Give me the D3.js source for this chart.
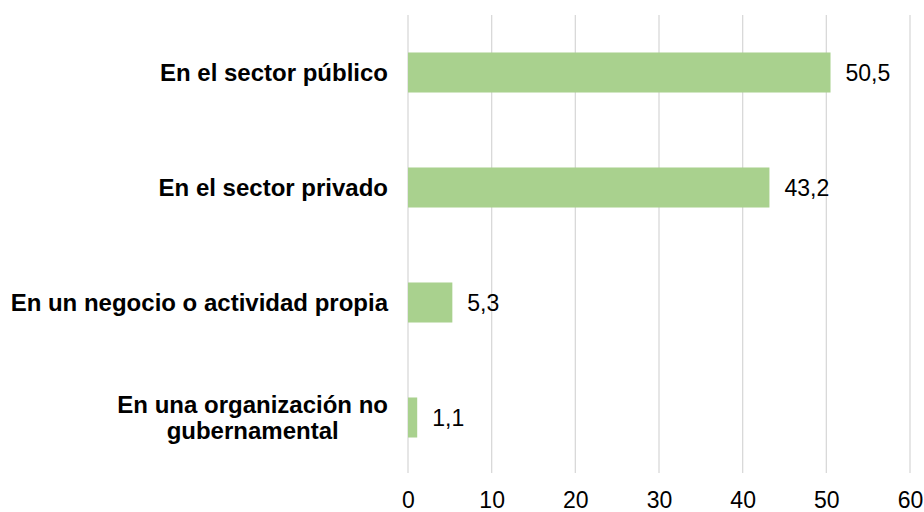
<!DOCTYPE html>
<html>
<head>
<meta charset="utf-8">
<script src="https://cdn.jsdelivr.net/npm/d3@7"></script>
<style>
  body { margin: 0; background: #fff; }
  svg text { font-family: "Liberation Sans", Arial, sans-serif; fill: #000; }
</style>
</head>
<body>
<svg id="chart" width="924" height="512"></svg>
<script>
// data
let categories = ["En el sector público", "En el sector privado", "En un negocio o actividad propia", "En una organización no gubernamental"];
let labelLines = [["En el sector público"], ["En el sector privado"], ["En un negocio o actividad propia"], ["En una organización no", "gubernamental"]];
let values = [50.5, 43.2, 5.3, 1.1];
let ticks = [0, 10, 20, 30, 40, 50, 60];

let svg = d3.select("#chart");
let plotLeft = 408, plotRight = 910, plotTop = 15, plotBottom = 473;

let x = d3.scaleLinear().domain([0, 60]).range([plotLeft, plotRight]);
let y = d3.scaleBand()
  .domain(categories)
  .range([plotTop, 475])
  .paddingInner(0.652)
  .paddingOuter(0.326);

// gridlines
svg.append("g").selectAll("line")
  .data(ticks)
  .enter()
  .append("line")
  .attr("x1", d => x(d)).attr("x2", d => x(d))
  .attr("y1", plotTop).attr("y2", plotBottom)
  .attr("stroke", "#d9d9d9")
  .attr("stroke-width", 1.3);

// bars
svg.append("g").selectAll("rect")
  .data(values)
  .enter()
  .append("rect")
  .attr("x", x(0))
  .attr("y", (d, i) => y(categories[i]))
  .attr("width", d => x(d) - x(0))
  .attr("height", y.bandwidth())
  .attr("fill", "#a9d18e");

// value labels
svg.append("g").selectAll("text")
  .data(values)
  .enter()
  .append("text")
  .attr("x", d => x(d) + 15)
  .attr("y", (d, i) => y(categories[i]) + y.bandwidth() / 2)
  .attr("dy", "0.36em")
  .attr("font-size", 23)
  .text(d => d3.format(".1f")(d).replace(".", ","));

// x axis
let xAxis = svg.append("g")
  .attr("transform", "translate(0," + plotBottom + ")")
  .call(d3.axisBottom(x).tickValues(ticks).tickSize(0).tickPadding(19).tickFormat(d3.format("d")));
xAxis.select(".domain").remove();
xAxis.selectAll("text").attr("font-size", 23).attr("font-family", "Liberation Sans, Arial, sans-serif").attr("fill", "#000");

// category labels, multi-line ones centred on each other and right-aligned to the axis
let labelRight = 388, lineH = 26;
categories.forEach((c, i) => {
  let lines = labelLines[i];
  let cy = y(c) + y.bandwidth() / 2;
  let g = svg.append("g");
  let t = g.append("text")
    .attr("font-size", 24)
    .attr("font-weight", "bold");
  if (lines.length === 1) {
    t.attr("x", labelRight).attr("y", cy).attr("dy", "0.36em")
      .attr("text-anchor", "end").text(lines[0]);
  } else {
    t.text(lines[0]);
    let w = t.node().getComputedTextLength();
    t.remove();
    let cx = labelRight - w / 2;
    lines.forEach((l, j) => {
      g.append("text")
        .attr("font-size", 24)
        .attr("font-weight", "bold")
        .attr("x", cx)
        .attr("y", cy + (j - (lines.length - 1) / 2) * lineH)
        .attr("dy", "0.36em")
        .attr("text-anchor", "middle")
        .text(l);
    });
  }
});
</script>
</body>
</html>
